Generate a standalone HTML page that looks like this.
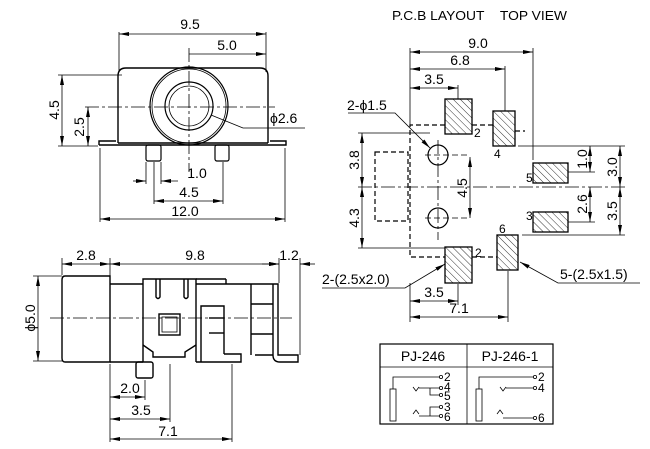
<!DOCTYPE html>
<html><head><meta charset="utf-8"><style>
html,body{margin:0;padding:0;background:#fff;}
svg{display:block;font-family:"Liberation Sans",sans-serif;}
</style></head><body>
<svg width="650" height="449" viewBox="0 0 650 449" xmlns="http://www.w3.org/2000/svg">
<defs>
<marker id="a" viewBox="0 0 10 4" refX="10" refY="2" markerWidth="10" markerHeight="4" orient="auto-start-reverse" markerUnits="userSpaceOnUse"><path d="M0,0L10,2L0,4z" fill="#000"/></marker>
<pattern id="h" width="5" height="5" patternUnits="userSpaceOnUse" patternTransform="rotate(-45)"><rect width="5" height="5" fill="#fff"/><line x1="0" y1="0" x2="0" y2="5" stroke="#000" stroke-width="0.8"/></pattern>
</defs>
<g fill="none" stroke="#000" stroke-width="0.8">
<line x1="119" y1="32" x2="119" y2="72"/><line x1="266" y1="32" x2="266" y2="72"/>
<line x1="119" y1="34" x2="266" y2="34" marker-start="url(#a)" marker-end="url(#a)"/>
<line x1="189" y1="54" x2="266" y2="54" marker-end="url(#a)"/>
<path d="M118,143 V76 Q118,68 126,68 H260 Q268,68 268,76 V143" stroke-width="1.4"/>
<path d="M99,145 H286 V141 H270 M99,145 V141 H116" stroke-width="1.4"/>
<line x1="118" y1="143" x2="268" y2="143" stroke-width="1.4"/>
<circle cx="189" cy="106" r="39" stroke-width="1.2"/><circle cx="189" cy="106" r="37"/>
<circle cx="189" cy="106" r="24" stroke-width="1.2"/><circle cx="189" cy="106" r="20"/>
<line x1="85" y1="107" x2="275" y2="107" stroke-dasharray="14,3,3,3"/>
<line x1="189" y1="48" x2="189" y2="172" stroke-dasharray="14,3,3,3"/>
<polyline points="211,115 243,128 305,128"/>
<rect x="146" y="145" width="15" height="16" rx="2" stroke-width="1.2"/>
<rect x="215" y="145" width="14" height="16" rx="2" stroke-width="1.2"/>
<line x1="58" y1="75" x2="122" y2="75"/><line x1="58" y1="146" x2="98" y2="146"/>
<line x1="62" y1="75" x2="62" y2="146" marker-start="url(#a)" marker-end="url(#a)"/>
<line x1="88" y1="107" x2="88" y2="146" marker-start="url(#a)" marker-end="url(#a)"/>
<line x1="100" y1="148" x2="100" y2="222"/><line x1="285" y1="148" x2="285" y2="222"/>
<line x1="100" y1="219" x2="285" y2="219" marker-start="url(#a)" marker-end="url(#a)"/>
<line x1="146" y1="162" x2="146" y2="184"/><line x1="154" y1="162" x2="154" y2="204"/><line x1="161" y1="162" x2="161" y2="184"/><line x1="223" y1="162" x2="223" y2="204"/>
<line x1="133" y1="181" x2="146" y2="181" marker-end="url(#a)"/><line x1="178" y1="181" x2="161" y2="181" marker-end="url(#a)"/>
<line x1="154" y1="201" x2="223" y2="201" marker-start="url(#a)" marker-end="url(#a)"/>
<line x1="62" y1="258" x2="62" y2="275"/><line x1="110" y1="258" x2="110" y2="283"/><line x1="279" y1="258" x2="279" y2="283"/><line x1="300" y1="258" x2="300" y2="355"/>
<line x1="62" y1="264" x2="110" y2="264" marker-start="url(#a)" marker-end="url(#a)"/>
<line x1="110" y1="264" x2="279" y2="264" marker-start="url(#a)" marker-end="url(#a)"/>
<line x1="262" y1="264" x2="279" y2="264" marker-end="url(#a)"/><line x1="315" y1="264" x2="300" y2="264" marker-end="url(#a)"/>
<g stroke-width="1.4">
<path d="M65,276 H110 V362 H65 Q62,362 62,358 V280 Q62,276 65,276"/>
<path d="M110,284 H143 M196,284 H226 M226,279 V284 H273 V355 Q273,362 280,362 H298 V355 H278 V284 H273"/>
<path d="M143,362 V279 H196 V362"/>
<path d="M110,362 H143 M196,362 H241 V354 H224"/>
<path d="M143,345 L153,352 V357 H185 V352 L196,345"/>
<path d="M156,279 V297 Q158,300 160,297 V279 M184,279 V297 Q186,300 188,297 V279"/>
<rect x="159" y="314" width="21" height="21"/><rect x="162" y="317" width="15" height="15" stroke-width="0.8"/>
<line x1="196" y1="279" x2="226" y2="279"/>
<path d="M201,362 V306 H224 V354"/>
<line x1="209" y1="318" x2="224" y2="318"/><line x1="209" y1="333" x2="224" y2="333"/>
<line x1="251" y1="284" x2="251" y2="355"/>
<line x1="251" y1="304" x2="273" y2="304"/><line x1="251" y1="334" x2="273" y2="334"/>
<line x1="255" y1="355" x2="273" y2="355"/>
<rect x="136" y="362" width="17" height="16" rx="2"/>
</g>
<line x1="50" y1="318" x2="292" y2="318" stroke-dasharray="14,3,3,3"/>
<line x1="33" y1="276" x2="62" y2="276"/><line x1="33" y1="361" x2="62" y2="361"/>
<line x1="38" y1="276" x2="38" y2="361" marker-start="url(#a)" marker-end="url(#a)"/>
<line x1="110" y1="364" x2="110" y2="442"/><line x1="145" y1="380" x2="145" y2="400"/><line x1="170" y1="364" x2="170" y2="422"/><line x1="232" y1="364" x2="232" y2="442"/>
<line x1="110" y1="397" x2="145" y2="397" marker-start="url(#a)" marker-end="url(#a)"/>
<line x1="110" y1="419" x2="170" y2="419" marker-start="url(#a)" marker-end="url(#a)"/>
<line x1="110" y1="439" x2="232" y2="439" marker-start="url(#a)" marker-end="url(#a)"/>
<line x1="410" y1="48" x2="410" y2="125"/><line x1="533" y1="48" x2="533" y2="160"/><line x1="505" y1="66" x2="505" y2="111"/><line x1="458" y1="85" x2="458" y2="99"/>
<line x1="410" y1="52" x2="533" y2="52" marker-start="url(#a)" marker-end="url(#a)"/>
<line x1="410" y1="69" x2="505" y2="69" marker-start="url(#a)" marker-end="url(#a)"/>
<line x1="410" y1="88" x2="458" y2="88" marker-start="url(#a)" marker-end="url(#a)"/>
<g stroke-dasharray="5,3" stroke-width="1.2">
<path d="M445,125 H410 V257 H445"/><line x1="472" y1="125" x2="493" y2="125"/><line x1="515" y1="131" x2="525" y2="131"/><line x1="472" y1="257" x2="497" y2="257"/>
<rect x="375" y="152" width="33" height="69"/>
</g>
<circle cx="438" cy="155" r="10" stroke-width="1.2"/><circle cx="438" cy="218" r="10" stroke-width="1.2"/>
<line x1="358" y1="187" x2="625" y2="187" stroke-dasharray="14,3,3,3"/>
<line x1="438" y1="140" x2="438" y2="240" stroke-dasharray="14,3,3,3"/>
<line x1="425" y1="155" x2="470" y2="155" stroke-dasharray="6,3"/><line x1="425" y1="218" x2="470" y2="218" stroke-dasharray="6,3"/>
<g fill="url(#h)" stroke-width="1.3">
<rect x="445" y="99" width="27" height="35"/><rect x="493" y="111" width="22" height="35"/>
<rect x="533" y="163" width="35" height="20"/><rect x="533" y="212" width="35" height="20"/>
<rect x="445" y="247" width="27" height="36"/><rect x="497" y="235" width="21" height="35"/>
</g>
<line x1="518" y1="146" x2="625" y2="146"/><line x1="568" y1="172" x2="595" y2="172"/><line x1="568" y1="222" x2="595" y2="222"/><line x1="522" y1="235" x2="625" y2="235"/>
<line x1="590" y1="146" x2="590" y2="172" marker-start="url(#a)" marker-end="url(#a)"/>
<line x1="620" y1="146" x2="620" y2="187" marker-start="url(#a)" marker-end="url(#a)"/>
<line x1="590" y1="187" x2="590" y2="222" marker-start="url(#a)" marker-end="url(#a)"/>
<line x1="620" y1="187" x2="620" y2="235" marker-start="url(#a)" marker-end="url(#a)"/>
<line x1="358" y1="133" x2="430" y2="133"/><line x1="358" y1="248" x2="445" y2="248"/>
<line x1="362" y1="133" x2="362" y2="187" marker-start="url(#a)" marker-end="url(#a)"/>
<line x1="362" y1="187" x2="362" y2="248" marker-start="url(#a)" marker-end="url(#a)"/>
<line x1="470" y1="157" x2="470" y2="218" marker-start="url(#a)" marker-end="url(#a)"/>
<polyline points="348,113 395,113 430,148" marker-end="url(#a)"/>
<polyline points="322,288 405,288 445,264" marker-end="url(#a)"/>
<polyline points="640,283 558,283 520,262" marker-end="url(#a)"/>
<line x1="410" y1="283" x2="410" y2="322"/><line x1="458" y1="284" x2="458" y2="305"/><line x1="508" y1="271" x2="508" y2="322"/>
<line x1="410" y1="301" x2="458" y2="301" marker-start="url(#a)" marker-end="url(#a)"/>
<line x1="410" y1="317" x2="508" y2="317" marker-start="url(#a)" marker-end="url(#a)"/>
<rect x="380" y="344" width="173" height="80" stroke-width="1.2"/>
<line x1="380" y1="367" x2="553" y2="367"/><line x1="467" y1="344" x2="467" y2="424"/>
<rect x="390" y="389" width="6" height="32"/>
<polyline points="393,389 393,377 440,377"/>
<polyline points="413,387 416,391 419,387"/><polyline points="419,388 440,388"/><polyline points="430,388 430,395 440,395"/>
<polyline points="413,414 416,410 419,414"/><polyline points="419,416 440,416"/><polyline points="430,416 430,407 440,407"/>
<rect x="476" y="389" width="6" height="32"/>
<polyline points="479,389 479,377 534,377"/>
<polyline points="500,387 503,391 506,387"/><line x1="506" y1="388" x2="534" y2="388"/>
<polyline points="497,414 500,410 503,414"/><line x1="503" y1="418" x2="534" y2="418"/>
</g>
<g fill="#fff" stroke="#000" stroke-width="0.8">
<circle cx="441" cy="377" r="1.6"/><circle cx="441" cy="388" r="1.6"/><circle cx="441" cy="395" r="1.6"/><circle cx="441" cy="407" r="1.6"/><circle cx="441" cy="416" r="1.6"/>
<circle cx="535" cy="377" r="1.6"/><circle cx="535" cy="388" r="1.6"/><circle cx="535" cy="418" r="1.6"/>
</g>
<g font-size="14" fill="#000">
<text x="190" y="29" text-anchor="middle">9.5</text>
<text x="227" y="50" text-anchor="middle">5.0</text>
<text x="270" y="123">ϕ2.6</text>
<text x="197" y="178" text-anchor="middle">1.0</text>
<text x="189" y="197" text-anchor="middle">4.5</text>
<text x="185" y="216" text-anchor="middle">12.0</text>
<text transform="translate(59,110) rotate(-90)" text-anchor="middle">4.5</text>
<text transform="translate(84,127) rotate(-90)" text-anchor="middle">2.5</text>
<text x="86" y="260" text-anchor="middle">2.8</text>
<text x="195" y="260" text-anchor="middle">9.8</text>
<text x="289" y="260" text-anchor="middle">1.2</text>
<text transform="translate(35,318) rotate(-90)" text-anchor="middle">ϕ5.0</text>
<text x="130" y="393" text-anchor="middle">2.0</text>
<text x="141" y="415" text-anchor="middle">3.5</text>
<text x="168" y="436" text-anchor="middle">7.1</text>
<text x="392" y="20" font-size="13" textLength="175" lengthAdjust="spacingAndGlyphs">P.C.B LAYOUT&#160;&#160;&#160;&#160;TOP VIEW</text>
<text x="478" y="48" text-anchor="middle">9.0</text>
<text x="460" y="65" text-anchor="middle">6.8</text>
<text x="434" y="84" text-anchor="middle">3.5</text>
<text x="347" y="110">2-ϕ1.5</text>
<text x="434" y="297" text-anchor="middle">3.5</text>
<text x="459" y="313" text-anchor="middle">7.1</text>
<text x="322" y="284">2-(2.5x2.0)</text>
<text x="560" y="279">5-(2.5x1.5)</text>
<text transform="translate(359,160) rotate(-90)" text-anchor="middle">3.8</text>
<text transform="translate(359,218) rotate(-90)" text-anchor="middle">4.3</text>
<text transform="translate(467,188) rotate(-90)" text-anchor="middle">4.5</text>
<text transform="translate(587,159) rotate(-90)" text-anchor="middle">1.0</text>
<text transform="translate(617,167) rotate(-90)" text-anchor="middle">3.0</text>
<text transform="translate(587,204) rotate(-90)" text-anchor="middle">2.6</text>
<text transform="translate(617,211) rotate(-90)" text-anchor="middle">3.5</text>
<text x="423" y="361" text-anchor="middle">PJ-246</text>
<text x="510" y="361" text-anchor="middle">PJ-246-1</text>
</g>
<g font-size="12" fill="#000">
<text x="474" y="137">2</text><text x="494" y="158">4</text><text x="526" y="182">5</text><text x="526" y="220">3</text><text x="499" y="233">6</text><text x="475" y="257">2</text>
<text x="444" y="381">2</text><text x="444" y="391">4</text><text x="444" y="400">5</text><text x="444" y="411">3</text><text x="444" y="421">6</text>
<text x="538" y="381">2</text><text x="538" y="392">4</text><text x="538" y="422">6</text>
</g>
</svg>
</body></html>
